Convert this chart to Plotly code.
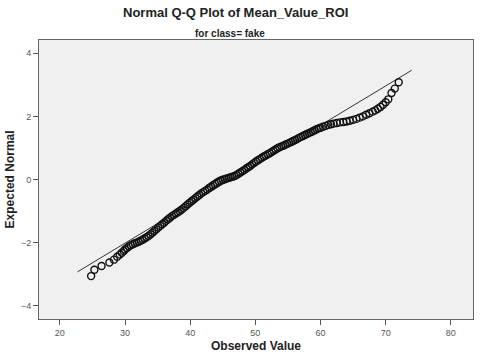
import plotly.graph_objects as go

observed = [24.8, 25.3, 26.4, 27.6, 28.3, 28.8, 29.2, 29.5, 29.8, 30.0, 30.3, 30.6, 30.9,
            31.2, 31.5, 31.8, 32.1, 32.4, 32.7, 33.0, 33.3, 33.6, 33.9, 34.2, 34.5, 34.8,
            35.1, 35.4, 35.7, 36.0, 36.3, 36.6, 36.9, 37.2, 37.5, 37.8, 38.1, 38.4, 38.7,
            39.0, 39.3, 39.6, 39.9, 40.2, 40.5, 40.8, 41.1, 41.4, 41.7, 42.0, 42.3, 42.6,
            42.9, 43.2, 43.5, 43.8, 44.1, 44.4, 44.7, 45.0, 45.3, 45.6, 45.9, 46.2, 46.5,
            46.8, 47.1, 47.4, 47.7, 48.0, 48.3, 48.6, 48.9, 49.2, 49.5, 49.8, 50.1, 50.4,
            50.7, 51.0, 51.3, 51.6, 51.9, 52.2, 52.5, 52.8, 53.1, 53.4, 53.7, 54.0, 54.3,
            54.6, 54.9, 55.2, 55.5, 55.8, 56.1, 56.4, 56.7, 57.0, 57.3, 57.6, 57.9, 58.2,
            58.5, 58.8, 59.1, 59.4, 59.7, 60.0, 60.4, 60.8, 61.2, 61.6, 62.0, 62.5, 63.0,
            63.5, 64.0, 64.5, 65.0, 65.5, 66.0, 66.5, 67.0, 67.5, 68.0, 68.4, 68.8, 69.2,
            69.6, 70.0, 70.4, 70.9, 71.4, 72.0]
expected = [-3.06, -2.86, -2.74, -2.63, -2.54, -2.45, -2.38, -2.32, -2.27, -2.22, -2.17, -2.12, -2.08,
            -2.05, -2.02, -2.00, -1.97, -1.94, -1.91, -1.87, -1.83, -1.79, -1.74, -1.69, -1.63, -1.58,
            -1.52, -1.47, -1.42, -1.37, -1.31, -1.26, -1.21, -1.16, -1.12, -1.08, -1.04, -1.00, -0.95,
            -0.90, -0.85, -0.79, -0.74, -0.69, -0.64, -0.59, -0.54, -0.49, -0.44, -0.40, -0.36, -0.32,
            -0.27, -0.23, -0.18, -0.14, -0.10, -0.06, -0.03, -0.01, 0.01, 0.03, 0.05, 0.07, 0.09,
            0.11, 0.14, 0.18, 0.22, 0.26, 0.30, 0.35, 0.39, 0.43, 0.48, 0.52, 0.57, 0.61,
            0.65, 0.69, 0.73, 0.76, 0.80, 0.83, 0.87, 0.91, 0.95, 0.99, 1.02, 1.05, 1.07,
            1.10, 1.13, 1.16, 1.19, 1.22, 1.25, 1.28, 1.32, 1.35, 1.38, 1.41, 1.44, 1.47,
            1.50, 1.53, 1.56, 1.59, 1.62, 1.64, 1.67, 1.70, 1.73, 1.75, 1.77, 1.79, 1.81,
            1.82, 1.84, 1.86, 1.89, 1.92, 1.96, 2.00, 2.05, 2.10, 2.15, 2.19, 2.24, 2.30,
            2.37, 2.45, 2.54, 2.74, 2.88, 3.08]

# Reference normal line parameters
line_mean = 46.2
line_sd = 8.03
line_x = [22.7, 74.0]
line_y = [(v - line_mean) / line_sd for v in line_x]

x_ticks = [20, 30, 40, 50, 60, 70, 80]
y_ticks = [-4, -2, 0, 2, 4]

FONT = "Liberation Sans, Arial, sans-serif"

fig = go.Figure()
fig.add_trace(go.Scatter(x=line_x, y=line_y, mode="lines",
                         line=dict(color="#333333", width=1), hoverinfo="skip"))
fig.add_trace(go.Scatter(x=observed, y=expected, mode="markers",
                         marker=dict(symbol="circle-open", size=7, color="#111111",
                                     line=dict(width=1.4, color="#111111"))))

axis_common = dict(showgrid=False, zeroline=False, ticks="outside", ticklen=5,
                   tickcolor="#555555", tickwidth=1,
                   tickfont=dict(family=FONT, size=9, color="#555555"),
                   showline=True, linecolor="#666666", linewidth=1, mirror=True)

fig.update_xaxes(range=[16.8, 83.4], tickvals=x_ticks, **axis_common)
fig.update_yaxes(range=[-4.42, 4.42], tickvals=y_ticks, **axis_common)

fig.update_layout(
    width=480, height=357,
    margin=dict(l=39, r=7, t=40, b=38),
    paper_bgcolor="white", plot_bgcolor="#f0f0f0",
    showlegend=False,
    font=dict(family=FONT),
    annotations=[
        dict(text="<b>Normal Q-Q Plot of Mean_Value_ROI</b>", xref="paper", yref="paper",
             x=0.452, y=1.097, xanchor="center", yanchor="middle", showarrow=False,
             font=dict(family=FONT, size=13, color="#222222")),
        dict(text="<b>for class= fake</b>", xref="paper", yref="paper",
             x=0.44, y=1.025, xanchor="center", yanchor="middle", showarrow=False,
             font=dict(family=FONT, size=10, color="#222222")),
        dict(text="<b>Observed Value</b>", xref="paper", yref="paper",
             x=0.5, y=-0.098, xanchor="center", yanchor="middle", showarrow=False,
             font=dict(family=FONT, size=12, color="#222222")),
        dict(text="<b>Expected Normal</b>", xref="paper", yref="paper",
             x=-0.067, y=0.5, xanchor="center", yanchor="middle", showarrow=False,
             textangle=-90, font=dict(family=FONT, size=12, color="#222222")),
    ],
)

fig.write_html("out.html",
               config={"displayModeBar": False},
               post_script="document.body.style.margin='0';document.body.style.padding='0';")
